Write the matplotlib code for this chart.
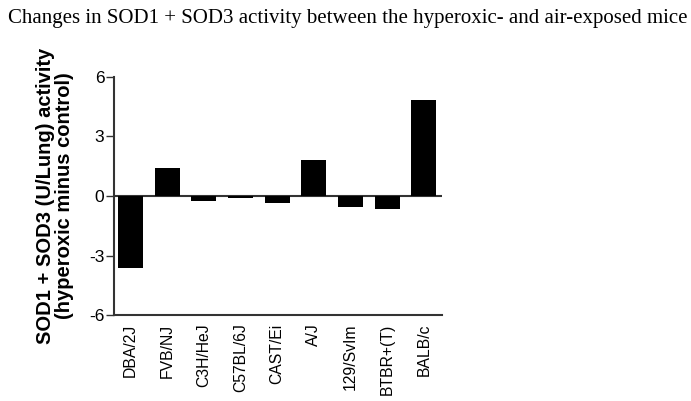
import matplotlib
matplotlib.use("Agg")
import matplotlib.pyplot as plt

strains = ["DBA/2J", "FVB/NJ", "C3H/HeJ", "C57BL/6J", "CAST/Ei", "A/J", "129/SvIm", "BTBR+(T)", "BALB/c"]
values = [-3.63, 1.39, -0.25, -0.13, -0.37, 1.79, -0.55, -0.64, 4.81]
yticks = [-6, -3, 0, 3, 6]
ytick_labels = ["-6", "-3", "0", "3", "6"]

fig = plt.figure(figsize=(6.91, 4.01), dpi=100)
ax = fig.add_axes([0.165, 0.214, 0.475, 0.595])
x = list(range(len(strains)))
ax.bar(x, values, width=0.68, color="black", zorder=3)
ax.axhline(0, color="#333333", lw=1.5, zorder=2)
ax.set_xlim(-0.45, 8.5)
ax.set_ylim(-6, 6)
ax.set_yticks(yticks)
ax.set_yticklabels(ytick_labels, fontsize=12.5, family="Liberation Sans")
ax.set_xticks(x)
ax.set_xticklabels(strains, rotation=90, fontsize=11.3, family="Liberation Sans")
ax.tick_params(axis="x", length=0, pad=6)
ax.tick_params(axis="y", length=6, width=1, color="#333333", pad=1)
for s in ["top", "right"]:
    ax.spines[s].set_visible(False)
for s in ["left", "bottom"]:
    ax.spines[s].set_color("#333333")
    ax.spines[s].set_linewidth(1.5)
ax.set_ylabel("SOD1 + SOD3 (U/Lung) activity\n(hyperoxic minus control)", fontsize=14.5,
              fontweight="bold", family="Liberation Sans", labelpad=11, linespacing=1.0)
fig.text(0.012, 0.955, "Changes in SOD1 + SOD3 activity between the hyperoxic- and air-exposed mice",
         fontsize=15, family="Liberation Serif", va="center", ha="left")
fig.savefig("out.png", dpi=100)
